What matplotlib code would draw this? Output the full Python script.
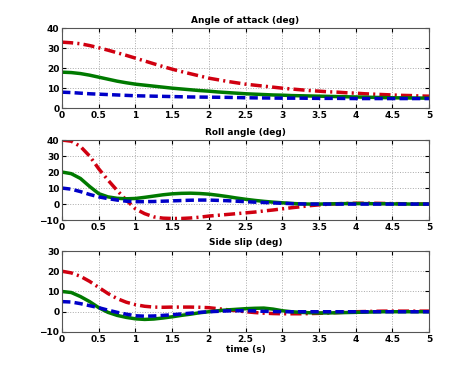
import matplotlib
matplotlib.use("Agg")
import matplotlib.pyplot as plt
import numpy as np

# time samples (s), every 0.125 s
t = np.linspace(0, 5, 41)

# angle of attack (deg)
aoa_red = [33, 32.7, 32.2, 31.3, 30.2, 29, 27.7, 26.4, 25, 23.6, 22.2, 20.8, 19.5, 18.3,
           17.2, 16.1, 15, 14.2, 13.4, 12.7, 12, 11.5, 11, 10.5, 10, 9.6, 9.2, 8.8, 8.5,
           8.2, 8, 7.7, 7.5, 7.2, 7, 6.8, 6.6, 6.4, 6.3, 6.1, 6]
aoa_green = [18, 17.8, 17.3, 16.5, 15.5, 14.5, 13.5, 12.7, 12, 11.5, 11, 10.5, 10, 9.6,
             9.2, 8.8, 8.5, 8.1, 7.8, 7.5, 7.2, 7, 6.8, 6.6, 6.5, 6.3, 6.2, 6.1, 6, 5.9,
             5.8, 5.7, 5.6, 5.5, 5.4, 5.3, 5.2, 5.15, 5.1, 5.05, 5]
aoa_blue = [8, 7.8, 7.5, 7.2, 7, 6.8, 6.6, 6.4, 6.2, 6.1, 6, 5.9, 5.8, 5.7, 5.6, 5.55,
            5.5, 5.45, 5.4, 5.3, 5.2, 5.15, 5.1, 5.05, 5, 5, 5, 4.95, 4.9, 4.9, 4.9, 4.85,
            4.8, 4.8, 4.8, 4.8, 4.8, 4.8, 4.8, 4.8, 4.8]

# roll angle (deg)
roll_red = [40, 39.3, 36, 30, 22, 15, 8.5, 2.5, -3, -6, -8, -8.8, -9, -9, -8.7, -8.2,
            -7.5, -7, -6.5, -6, -5.5, -5, -4.3, -3.7, -3, -2.3, -1.7, -1, -0.5, -0.1,
            0.2, 0.4, 0.5, 0.5, 0.5, 0.4, 0.3, 0.2, 0.1, 0.05, 0]
roll_green = [20, 19, 16, 11, 6.5, 4.5, 3.6, 3.3, 3.5, 4.2, 5, 5.8, 6.4, 6.7, 6.8, 6.6,
              6.2, 5.5, 4.7, 3.8, 3, 2.3, 1.7, 1.2, 0.8, 0.4, 0.1, 0, 0, 0.1, 0.2, 0.3,
              0.3, 0.3, 0.2, 0.2, 0.1, 0.1, 0, 0, 0]
roll_blue = [10, 9.3, 7.8, 6, 4.5, 3.4, 2.5, 1.8, 1.5, 1.5, 1.6, 1.8, 2, 2.2, 2.4, 2.5,
             2.5, 2.3, 2.1, 1.8, 1.5, 1.2, 1, 0.7, 0.5, 0.3, 0.1, 0, 0, 0, 0, 0, 0, 0,
             0, 0, 0, 0, 0, 0, 0]

# side slip (deg)
slip_red = [20, 19.2, 17.5, 15, 12, 9, 6.5, 4.7, 3.5, 2.7, 2.3, 2.2, 2.3, 2.3, 2.3, 2.2,
            2, 1.5, 1, 0.5, 0, -0.4, -0.7, -0.9, -1, -1, -1, -0.9, -0.8, -0.6, -0.4,
            -0.2, 0, 0.1, 0.2, 0.3, 0.3, 0.3, 0.3, 0.3, 0.3]
slip_green = [10, 9.5, 7.5, 5, 2, -0.3, -1.8, -2.8, -3.5, -3.8, -3.6, -3.1, -2.5, -1.8,
              -1.2, -0.5, 0, 0.5, 0.9, 1.2, 1.5, 1.7, 1.8, 1.3, 0.5, 0, -0.3, -0.5, -0.6,
              -0.6, -0.5, -0.4, -0.3, -0.2, -0.1, 0, 0, 0, 0, 0, 0]
slip_blue = [5, 4.8, 4, 3, 2, 0.8, -0.3, -1.2, -2, -2.2, -2.1, -1.8, -1.5, -1.1, -0.7,
             -0.3, 0, 0.2, 0.4, 0.5, 0.5, 0.4, 0.2, 0.1, 0, 0, 0, 0, 0, 0, 0, 0, 0, 0,
             0, 0, 0, 0, 0, 0, 0]

panels = [
    ("Angle of attack (deg)", aoa_red, aoa_green, aoa_blue, (0, 40), [0, 10, 20, 30, 40]),
    ("Roll angle (deg)", roll_red, roll_green, roll_blue, (-10, 40), [-10, 0, 10, 20, 30, 40]),
    ("Side slip (deg)", slip_red, slip_green, slip_blue, (-10, 30), [-10, 0, 10, 20, 30]),
]

fig = plt.figure(figsize=(4.74, 3.73), dpi=100)
boxes = [[0.131, 0.710, 0.774, 0.2145],
         [0.131, 0.410, 0.774, 0.2145],
         [0.131, 0.110, 0.774, 0.2170]]

xticks = [0, 0.5, 1, 1.5, 2, 2.5, 3, 3.5, 4, 4.5, 5]

for box, (title, r, g, b, ylim, yticks) in zip(boxes, panels):
    ax = fig.add_axes(box)
    ax.plot(t, r, color='#d00010', linestyle=(0, (3.2, 1.2, 0.6, 1.2)), linewidth=2.5)
    ax.plot(t, g, color='#007a00', linestyle='-', linewidth=2.5)
    ax.plot(t, b, color='#0000c8', linestyle=(0, (2.4, 1.2)), linewidth=2.5)
    ax.set_xlim(0, 5)
    ax.set_ylim(*ylim)
    ax.set_xticks(xticks)
    ax.set_xticklabels(['0', '0.5', '1', '1.5', '2', '2.5', '3', '3.5', '4', '4.5', '5'])
    ax.set_yticks(yticks)
    ax.grid(True, linestyle=':', color='#aaaaaa', linewidth=0.7)
    ax.tick_params(labelsize=6.5, length=3, direction='in', pad=2, top=True, right=True)
    for lab in ax.get_xticklabels() + ax.get_yticklabels():
        lab.set_fontweight('bold')
    for sp in ax.spines.values():
        sp.set_color('#555555')
    ax.set_title(title, fontsize=6.5, fontweight='bold', pad=4)

ax.set_xlabel('time (s)', fontsize=6.5, fontweight='bold', labelpad=1)

fig.savefig('out.png', dpi=100)
